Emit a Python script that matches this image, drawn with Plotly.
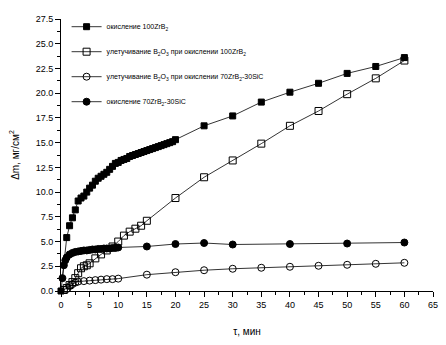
import plotly.graph_objects as go

# oxidation 100ZrB2 (filled squares)
x_ox100 = [0, 1, 1.5, 2, 2.5, 3, 3.5, 4, 4.5, 5, 5.5, 6, 6.5, 7, 7.5, 8, 8.5, 9, 9.5, 10,
           10.5, 11, 11.5, 12, 12.5, 13, 13.5, 14, 14.5, 15, 15.5, 16, 16.5, 17, 17.5, 18,
           18.5, 19, 19.5, 20, 25, 30, 35, 40, 45, 50, 55, 60]
y_ox100 = [0, 5.4, 6.6, 7.4, 8.2, 9.1, 9.4, 9.6, 10.0, 10.4, 10.7, 11.1, 11.4, 11.6, 11.8, 12.0,
           12.3, 12.6, 12.9, 13.0, 13.2, 13.3, 13.4, 13.6, 13.7, 13.8, 13.9, 14.0, 14.1, 14.2,
           14.3, 14.4, 14.5, 14.6, 14.7, 14.8, 14.9, 15.0, 15.1, 15.3, 16.7, 17.7, 19.1, 20.1,
           21.0, 22.0, 22.7, 23.6]

# B2O3 volatilization during oxidation of 100ZrB2 (open squares)
x_vol100 = [0.5, 1, 1.5, 2, 2.5, 3, 3.5, 4, 4.5, 5, 6, 7, 8, 9, 10, 11, 12, 13, 14, 15,
            20, 25, 30, 35, 40, 45, 50, 55, 60]
y_vol100 = [0.1, 0.3, 0.6, 0.9, 1.3, 1.8, 2.3, 2.5, 2.6, 2.8, 3.3, 3.7, 4.1, 4.5, 5.0, 5.6,
            6.0, 6.3, 6.6, 7.1, 9.4, 11.5, 13.2, 14.9, 16.7, 18.2, 19.9, 21.5, 23.3]

# B2O3 volatilization during oxidation of 70ZrB2-30SiC (open circles)
x_vol70 = [1, 1.5, 2, 2.5, 3, 4, 5, 6, 7, 8, 9, 10, 15, 20, 25, 30, 35, 40, 45, 50, 55, 60]
y_vol70 = [0.2, 0.5, 0.7, 0.85, 0.95, 1.0, 1.05, 1.1, 1.15, 1.2, 1.2, 1.25, 1.65, 1.9, 2.1,
           2.25, 2.35, 2.45, 2.55, 2.65, 2.75, 2.85]

# oxidation 70ZrB2-30SiC (filled circles)
x_ox70 = [0.25, 0.5, 0.75, 1, 1.5, 2, 2.5, 3, 3.5, 4, 4.5, 5, 5.5, 6, 6.5, 7, 7.5, 8, 8.5,
          9, 9.5, 10, 15, 20, 25, 30, 40, 50, 60]
y_ox70 = [1.3, 2.6, 3.1, 3.4, 3.7, 3.85, 3.95, 4.0, 4.05, 4.1, 4.1, 4.15, 4.2, 4.2, 4.25,
          4.25, 4.3, 4.3, 4.3, 4.35, 4.35, 4.4, 4.5, 4.75, 4.85, 4.7, 4.75, 4.8, 4.9]

names = [
    "окисление 100ZrB<sub>2</sub>",
    "улетучивание B<sub>2</sub>O<sub>3</sub> при окислении 100ZrB<sub>2</sub>",
    "улетучивание B<sub>2</sub>O<sub>3</sub> при окислении 70ZrB<sub>2</sub>-30SiC",
    "окисление 70ZrB<sub>2</sub>-30SiC",
]

fig = go.Figure()
series = [
    (x_ox100, y_ox100, "square", "black", 6),
    (x_vol100, y_vol100, "square-open", "black", 7),
    (x_vol70, y_vol70, "circle-open", "black", 7),
    (x_ox70, y_ox70, "circle", "black", 7),
]
for i, (xs, ys, sym, col, sz) in enumerate(series):
    fig.add_trace(go.Scatter(
        x=xs, y=ys, mode="lines+markers", name=names[i],
        legendgroup=f"g{i}",
        line=dict(color="black", width=0.8),
        marker=dict(symbol=sym, size=sz, color=col,
                    line=dict(color="black", width=1)),
        cliponaxis=False,
    ))

fig.update_layout(
    width=446, height=345,
    margin=dict(l=61, r=13, t=17, b=54),
    paper_bgcolor="white", plot_bgcolor="white",
    font=dict(family="Liberation Sans, Arial", size=9, color="black"),
    legend=dict(x=0.015, y=1.025, xanchor="left", yanchor="top",
                font=dict(size=7), tracegroupgap=6,
                bgcolor="rgba(0,0,0,0)"),
    xaxis=dict(range=[0, 65], dtick=5, tick0=0, showline=True, linecolor="black",
               linewidth=1, ticks="outside", ticklen=5, tickcolor="black",
               showgrid=False, zeroline=False, automargin=False,
               minor=dict(ticks="outside", ticklen=3, dtick=2.5, tickcolor="black"),
               title=dict(text="τ, мин", font=dict(size=10), standoff=19)),
    yaxis=dict(range=[0, 27.5], dtick=2.5, tick0=0, tickformat=".1f", showline=True,
               linecolor="black", linewidth=1, ticks="outside", ticklen=5,
               tickcolor="black", showgrid=False, zeroline=False, automargin=False,
               minor=dict(ticks="outside", ticklen=3, dtick=1.25, tickcolor="black"),
               title=dict(text="Δm, мг/см<sup>2</sup>", font=dict(size=10), standoff=14)),
)

fig.write_html("out.html")
